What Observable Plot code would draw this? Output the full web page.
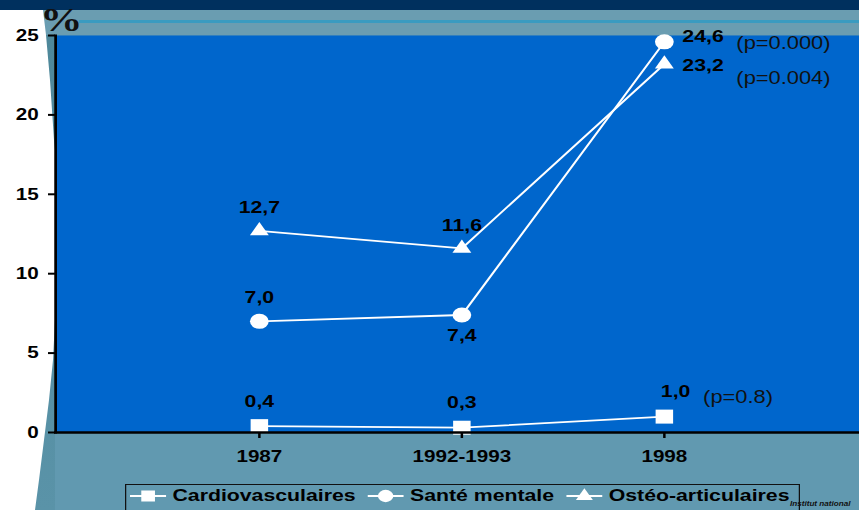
<!DOCTYPE html>
<html>
<head>
<meta charset="utf-8">
<script src="https://cdn.jsdelivr.net/npm/d3@7"></script>
<script src="https://cdn.jsdelivr.net/npm/@observablehq/plot@0.6"></script>
<style>
  html, body { margin: 0; padding: 0; }
  body { width: 859px; height: 510px; overflow: hidden; background: #6199b0; font-family: "Liberation Sans", Arial, sans-serif; }
  #stage { position: relative; width: 859px; height: 510px; overflow: hidden; }
  #topband { position: absolute; left: 0; top: 0; width: 859px; height: 10px; background: #00305e; }
  #band { position: absolute; left: 40px; top: 10px; width: 819px; height: 25px; background: #6a9db1; }
  #bandline { position: absolute; left: 79px; top: 20px; width: 780px; height: 3px; background: #3a9bc0; }
  #pageedge { position: absolute; left: 0; top: 0; width: 60px; height: 510px; background: linear-gradient(180deg, #4d8799 0%, #5a93a8 100%);
          clip-path: polygon(43px 35px, 55px 35px, 55px 510px, 30px 510px, 30px 40px); }
  #page { position: absolute; left: 0; top: 0; width: 60px; height: 510px; background: #ffffff;
          clip-path: polygon(0 10px, 43px 10px, 46px 35px, 50px 80px, 54px 140px, 55px 150px, 55px 320px, 53px 360px, 49px 400px, 44px 440px, 39px 480px, 35px 510px, 0 510px); }
  /* the chart and its legend are drawn in a narrower box and widened on screen */
  #wide { position: absolute; left: 0; top: 0; width: 687.2px; height: 510px; transform: scaleX(1.25); transform-origin: 0 0; }
  #chart { position: absolute; left: 0; top: 0; }
  #pct { position: absolute; left: 32px; top: 3px; font-family: "Liberation Serif", "Times New Roman", serif; font-weight: bold; font-size: 34px; color: #111; line-height: 1; }
  #legend { position: absolute; left: 100px; top: 484px; width: 540px; height: 32px; border: 1px solid #111; box-sizing: border-box;
            font-weight: bold; font-size: 17px; color: #000; }
  #legend .item { position: absolute; top: 1px; display: flex; align-items: center; height: 20px; line-height: 14px; white-space: nowrap; }
  #legend svg { margin-right: 5px; }
  #inst { position: absolute; left: 632px; top: 501px; white-space: nowrap; font-weight: bold; font-style: italic; font-size: 6.5px; line-height: 1; color: #111; }
</style>
</head>
<body>
<div id="stage">
  <div id="topband"></div>
  <div id="band"></div>
  <div id="bandline"></div>
  <div id="pageedge"></div>
  <div id="page"></div>
  <div id="wide">
    <div id="chart"></div>
    <div id="pct">%</div>
    <div id="inst">Institut national</div>
    <div id="legend"></div>
  </div>
</div>
<script>
// Survey years and the share (%) reporting each kind of condition
const years = ["1987", "1992-1993", "1998"];
const seriesNames = ["Cardiovasculaires", "Santé mentale", "Ostéo-articulaires"];
const cardio = [0.4, 0.3, 1.0];
const mental = [7.0, 7.4, 24.6];
const osteo = [12.7, 11.6, 23.2];
// Significance of the 1987 → 1998 change, per series
const pValues = ["(p=0.8)", "(p=0.000)", "(p=0.004)"];
const yTicks = [0, 5, 10, 15, 20, 25];

const seriesValues = [cardio, mental, osteo];
const symbols = ["square", "circle", "triangle"];
const symbolR = [7.9, 7.5, 5.6];

const rows = seriesNames.flatMap((s, i) =>
  years.map((year, j) => ({series: s, year, value: seriesValues[i][j]}))
);

// Where each value label sits relative to its point: [dx, dy, anchor]
const labelPlace = [
  [[0, -25, "middle"], [0, -25, "middle"], [9, -25, "middle"]],
  [[0, -24, "middle"], [0, 21, "middle"], [14.4, -5, "start"]],
  [[0, -23, "middle"], [0, -23, "middle"], [14.4, 1, "start"]]
];
// Where each p-value sits relative to the 1998 point
const pPlace = [[31, -19], [57.6, 2], [57.6, 14]];

const fmt = v => v.toFixed(1).replace(".", ",");

const marks = [
  Plot.frame({fill: "#0066cc", stroke: null}),
];

seriesNames.forEach((s, i) => {
  const data = rows.filter(d => d.series === s);
  marks.push(Plot.line(data, {x: "year", y: "value", stroke: "white", strokeWidth: 1.8}));
  marks.push(Plot.dot(data, {x: "year", y: "value", symbol: symbols[i], r: symbolR[i], fill: "white", stroke: null}));
  data.forEach((d, j) => {
    const [dx, dy, anchor] = labelPlace[i][j];
    marks.push(Plot.text([d], {x: "year", y: "value", text: d => fmt(d.value), dx, dy, textAnchor: anchor,
      fontSize: 17, fontWeight: "bold", fill: "black"}));
  });
  const last = data[data.length - 1];
  marks.push(Plot.text([last], {x: "year", y: "value", text: () => pValues[i], dx: pPlace[i][0], dy: pPlace[i][1],
    textAnchor: "start", fontSize: 17.5, fill: "#111"}));
});

marks.push(
  Plot.axisY({ticks: yTicks, tickSize: 5.6, tickPadding: 8, fontSize: 16.5, fontWeight: "bold", fill: "black", stroke: "black", strokeWidth: 2, label: null}),
  Plot.axisX({tickSize: 6, tickPadding: 12, fontSize: 16.5, fontWeight: "bold", fill: "black", stroke: "black", strokeWidth: 2, label: null}),
  Plot.frame({anchor: "left", stroke: "black", strokeWidth: 2.2}),
  Plot.frame({anchor: "bottom", stroke: "black", strokeWidth: 2.5})
);

const chart = Plot.plot({
  width: 687.2,
  height: 510,
  marginTop: 35,
  marginBottom: 78,
  marginLeft: 44,
  marginRight: 0,
  style: {background: "transparent", fontFamily: "'Liberation Sans', Arial, sans-serif", overflow: "visible"},
  x: {type: "point", domain: years, padding: 0.975, align: 0.511},
  y: {domain: [0, 25]},
  marks
});
document.getElementById("chart").appendChild(chart);

// Legend: line swatch with the series marker, then its name
const legend = document.getElementById("legend");
const itemLeft = [3, 193, 352];
const ns = "http://www.w3.org/2000/svg";
seriesNames.forEach((s, i) => {
  const item = document.createElement("div");
  item.className = "item";
  item.style.left = itemLeft[i] + "px";
  const sw = document.createElementNS(ns, "svg");
  sw.setAttribute("width", 29);
  sw.setAttribute("height", 20);
  const ln = document.createElementNS(ns, "line");
  ln.setAttribute("x1", 0); ln.setAttribute("x2", 29);
  ln.setAttribute("y1", 10); ln.setAttribute("y2", 10);
  ln.setAttribute("stroke", "white"); ln.setAttribute("stroke-width", 2);
  sw.appendChild(ln);
  const p = document.createElementNS(ns, "path");
  p.setAttribute("d", d3.symbol([d3.symbolSquare, d3.symbolCircle, d3.symbolTriangle][i], [120, 120, 80][i])());
  p.setAttribute("transform", "translate(14.5,10)");
  p.setAttribute("fill", "white");
  sw.appendChild(p);
  item.appendChild(sw);
  const t = document.createElement("span");
  t.textContent = s;
  item.appendChild(t);
  legend.appendChild(item);
});
</script>
</body>
</html>
